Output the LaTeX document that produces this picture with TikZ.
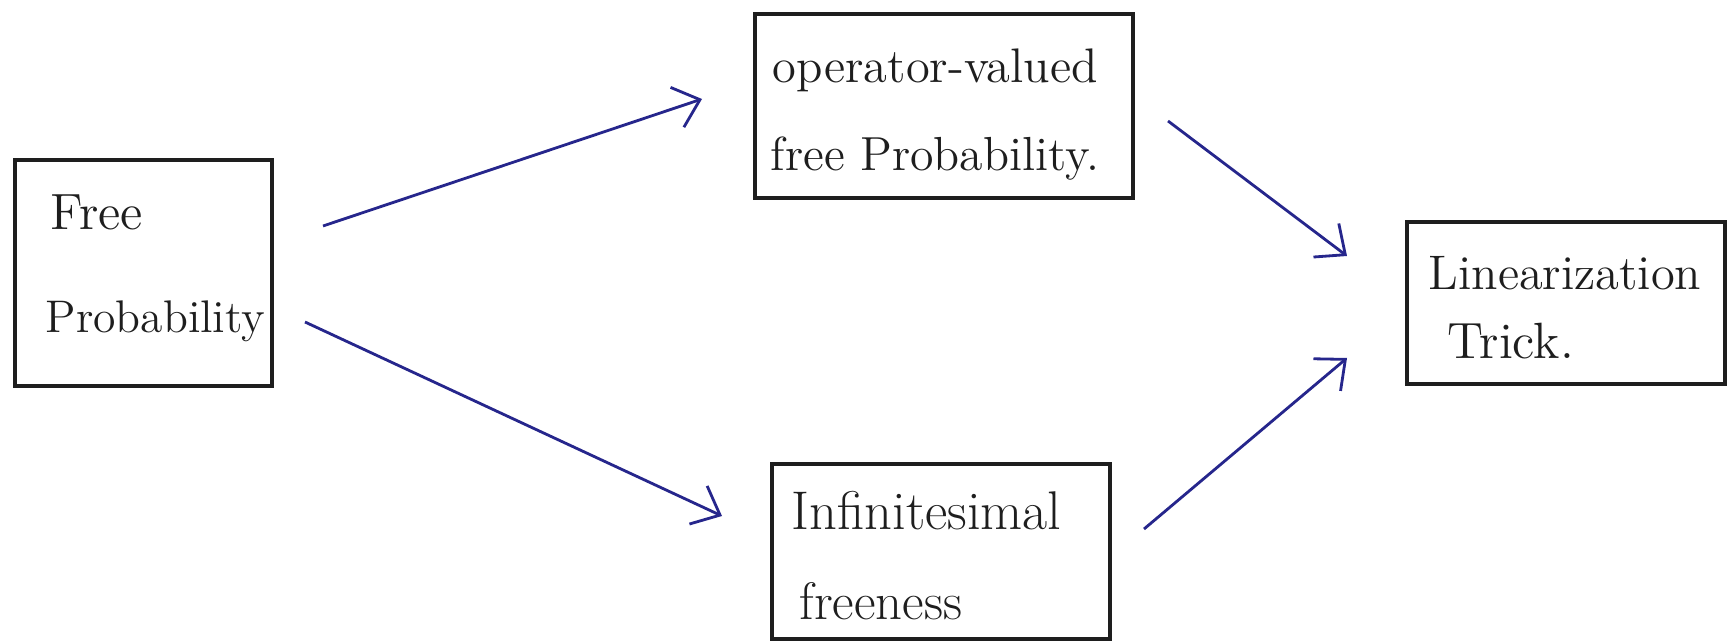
\documentclass[tikz,border=0pt]{standalone}
\usetikzlibrary{arrows.meta}
\definecolor{pen}{RGB}{38,38,140}
\definecolor{ink}{RGB}{30,30,30}
\tikzset{
  boxnode/.style={draw=ink, line width=1pt, rectangle, inner sep=0pt, outer sep=0pt},
  txt/.style={anchor=base west, inner sep=0pt, font=\fontsize{13.5}{16}\selectfont, text=ink},
  txtsz/.style={font=\fontsize{#1}{16}\selectfont},
  arr/.style={draw=pen, line width=0.8pt, -{Straight Barb[length=2.4mm, width=4.2mm, line width=0.8pt]}}
}
\begin{document}
\begin{tikzpicture}[x=0.01cm, y=-0.01cm]
\useasboundingbox (0,0) rectangle (1728,643);
% boxes
\node[boxnode, minimum width=2.57cm, minimum height=2.26cm] (fp) at (143.5,273) {};
\node[boxnode, minimum width=3.78cm, minimum height=1.84cm] (ov) at (944,106) {};
\node[boxnode, minimum width=3.38cm, minimum height=1.75cm] (inf) at (941,551.5) {};
\node[boxnode, minimum width=3.18cm, minimum height=1.62cm] (lin) at (1566,303) {};
% texts
\node[txt, txtsz=14.5] (fp1) at (50,230) {Free};
\node[txt, txtsz=13] (fp2) at (45,333) {Probability};
\node[txt, txtsz=13.8] (ov1) at (772,83) {operator-valued};
\node[txt, txtsz=13.6] (ov2) at (770,171) {free Probability.};
\node[txt, txtsz=15.5] (in1) at (791,529) {Infinitesimal};
\node[txt, txtsz=15] (in2) at (799,619) {freeness};
\node[txt, txtsz=13.8] (li1) at (1428,290) {Linearization};
\node[txt, txtsz=14.5] (li2) at (1447,358) {Trick.};
% arrow end points
\coordinate (a1s) at (323,226);
\coordinate (a1e) at (702,99);
\coordinate (a2s) at (305,322);
\coordinate (a2e) at (722,516);
\coordinate (a3s) at (1168,121);
\coordinate (a3e) at (1347,256);
\coordinate (a4s) at (1144,529);
\coordinate (a4e) at (1347,358);
\draw[arr] (a1s) -- (a1e);
\draw[arr] (a2s) -- (a2e);
\draw[arr] (a3s) -- (a3e);
\draw[arr] (a4s) -- (a4e);
\end{tikzpicture}
\end{document}
